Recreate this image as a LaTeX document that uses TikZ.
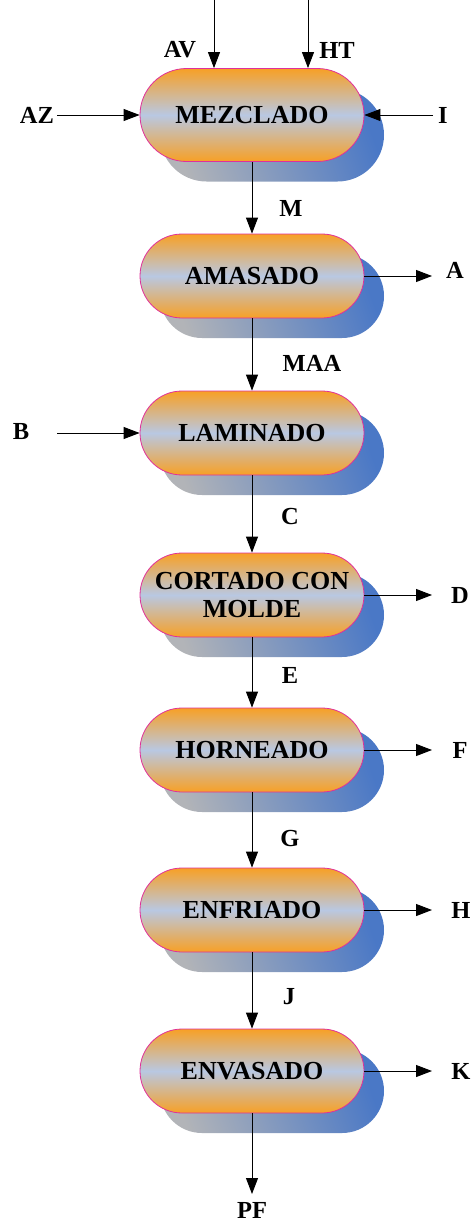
\documentclass[tikz,border=0pt]{standalone}
\usepackage{fontspec}
\setmainfont{Liberation Serif}
\usetikzlibrary{arrows.meta,shapes.misc,shadows}

\definecolor{orf}{HTML}{F7A026}
\definecolor{blu}{HTML}{B9C8E2}
\definecolor{rim}{HTML}{E0309A}
\definecolor{shgray}{HTML}{B2B4B8}
\definecolor{shblue}{HTML}{4A78C6}

\pgfdeclareverticalshading{procshade}{100bp}{%
  color(0bp)=(orf); color(25bp)=(orf); color(50bp)=(blu);
  color(75bp)=(orf); color(100bp)=(orf)}

\tikzset{
  proc/.style={rounded rectangle, minimum width=224pt, minimum height=84pt,
    inner sep=0pt, draw=rim, line width=0.8pt, shading=procshade,
    align=center, font=\fontsize{26}{28}\selectfont\bfseries,
    general shadow={shadow xshift=20pt, shadow yshift=-20pt,
      left color=shgray, right color=shblue, shading angle=110, draw=none}},
  lbl/.style={inner sep=0pt, font=\fontsize{24.5}{26}\selectfont\bfseries},
  flow/.style={-{Triangle[length=16pt,width=12pt]}, line width=0.9pt}
}

\begin{document}
\begin{tikzpicture}[x=1pt, y=-1pt]
\useasboundingbox (0,0) rectangle (475,1223);

% process steps
\node[proc, minimum height=93pt] (mez) at (252,115) {MEZCLADO};
\node[proc] (ama) at (252,276) {AMASADO};
\node[proc] (lam) at (252,433) {LAMINADO};
\node[proc] (cor) at (252,595) {CORTADO CON\\MOLDE};
\node[proc] (hor) at (252,750) {HORNEADO};
\node[proc] (enf) at (252,910) {ENFRIADO};
\node[proc] (env) at (252,1071) {ENVASADO};

% free ends of the inputs and outputs
\coordinate (avtop) at (214,0);
\coordinate (httop) at (308,0);
\coordinate (azs) at (57,115);
\coordinate (is) at (433,115);
\coordinate (bs) at (57,433);
\coordinate (outx) at (432,0);
\coordinate (pfend) at (252,1194);

% stream labels
\node[lbl] (lav) at (180,50) {AV};
\node[lbl] (lht) at (337,50) {HT};
\node[lbl] (laz) at (37,115) {AZ};
\node[lbl] (li) at (443,115) {I};
\node[lbl] (lm) at (291,208) {M};
\node[lbl] (la) at (455,270) {A};
\node[lbl] (lmaa) at (312,363) {MAA};
\node[lbl] (lb) at (21,432) {B};
\node[lbl] (lc) at (290,517) {C};
\node[lbl] (ld) at (460,595) {D};
\node[lbl] (le) at (290,675) {E};
\node[lbl] (lf) at (460,750) {F};
\node[lbl] (lg) at (290,838) {G};
\node[lbl] (lh) at (461,910) {H};
\node[lbl] (lj) at (289,997) {J};
\node[lbl] (lk) at (461,1071) {K};
\node[lbl] (lpf) at (252,1210) {PF};

% inputs
\draw[flow] (avtop) -- (avtop |- mez.north);
\draw[flow] (httop) -- (httop |- mez.north);
\draw[flow] (azs) -- (mez.west);
\draw[flow] (is) -- (mez.east);
\draw[flow] (bs) -- (lam.west);

% main line
\draw[flow] (mez.south) -- (ama.north);
\draw[flow] (ama.south) -- (lam.north);
\draw[flow] (lam.south) -- (cor.north);
\draw[flow] (cor.south) -- (hor.north);
\draw[flow] (hor.south) -- (enf.north);
\draw[flow] (enf.south) -- (env.north);
\draw[flow] (env.south) -- (pfend);

% outputs
\draw[flow] (ama.east) -- (ama.east -| outx);
\draw[flow] (cor.east) -- (cor.east -| outx);
\draw[flow] (hor.east) -- (hor.east -| outx);
\draw[flow] (enf.east) -- (enf.east -| outx);
\draw[flow] (env.east) -- (env.east -| outx);
\end{tikzpicture}
\end{document}
